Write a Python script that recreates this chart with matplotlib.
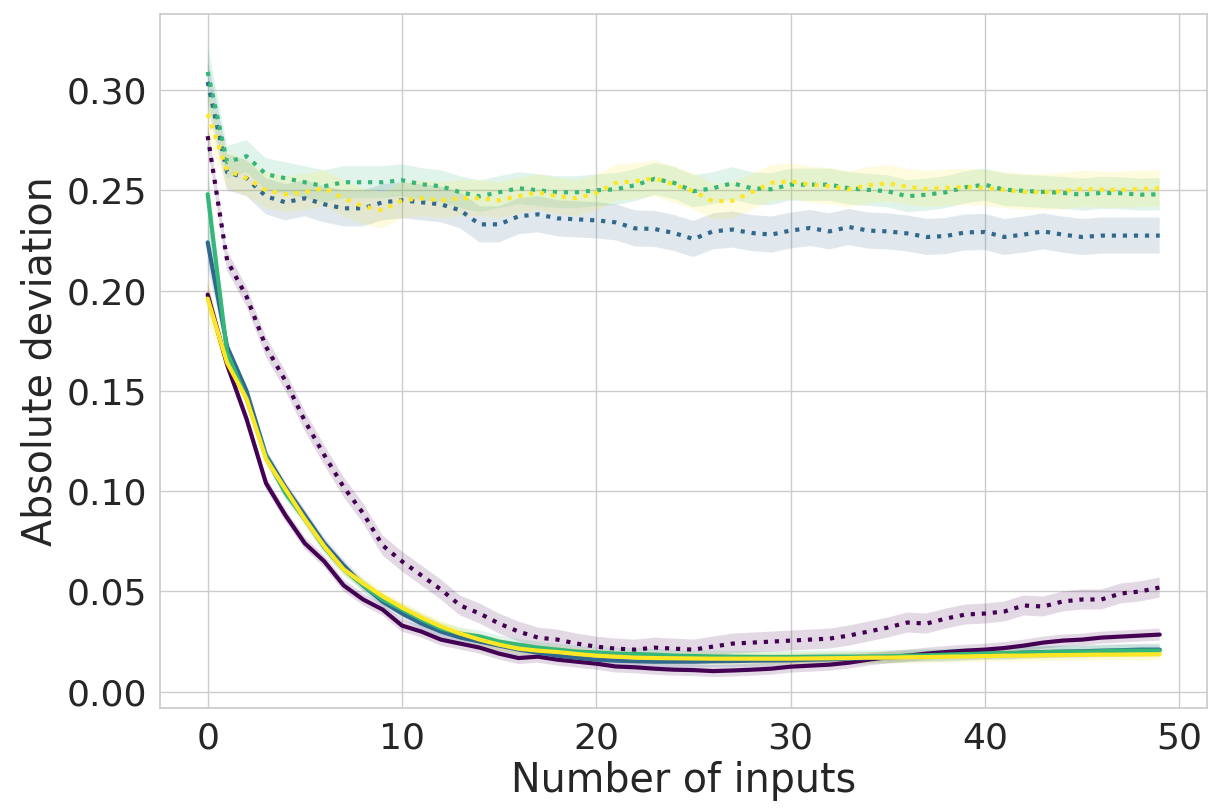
import numpy as np
import seaborn as sns
from matplotlib import pyplot as plt

sns.set_theme(style="whitegrid")
plt.rcParams['font.family'] = ['DejaVu Sans']

n_inputs = list(range(50))

# solid lines
purple_solid = [0.198, 0.163, 0.136, 0.104, 0.088, 0.074, 0.065, 0.053, 0.046, 0.041,
                0.033, 0.030, 0.026, 0.024, 0.022, 0.019, 0.0168, 0.0175, 0.016, 0.015,
                0.014, 0.0126, 0.0122, 0.0115, 0.011, 0.0108, 0.0103, 0.0106, 0.011, 0.0115,
                0.0125, 0.013, 0.0135, 0.0145, 0.016, 0.0172, 0.018, 0.019, 0.0198, 0.0205,
                0.021, 0.0218, 0.023, 0.0245, 0.0255, 0.026, 0.027, 0.0275, 0.028, 0.0285]
blue_solid = [0.224, 0.172, 0.150, 0.118, 0.102, 0.088, 0.074, 0.063, 0.053, 0.045,
              0.039, 0.034, 0.030, 0.027, 0.025, 0.023, 0.021, 0.0195, 0.018, 0.017,
              0.016, 0.0155, 0.0152, 0.015, 0.015, 0.015, 0.0152, 0.0153, 0.0155, 0.0156,
              0.0157, 0.016, 0.0162, 0.0165, 0.0168, 0.017, 0.0175, 0.018, 0.018, 0.0185,
              0.019, 0.019, 0.0195, 0.0198, 0.020, 0.0202, 0.0205, 0.0207, 0.021, 0.021]
green_solid = [0.248, 0.169, 0.146, 0.117, 0.099, 0.086, 0.072, 0.061, 0.053, 0.046,
               0.041, 0.036, 0.0316, 0.029, 0.0276, 0.025, 0.0235, 0.022, 0.021, 0.020,
               0.0196, 0.019, 0.0188, 0.0185, 0.018, 0.0178, 0.0176, 0.0175, 0.0174, 0.0173,
               0.0173, 0.0174, 0.0175, 0.0175, 0.0176, 0.0177, 0.018, 0.0182, 0.0185, 0.0188,
               0.019, 0.0192, 0.0195, 0.0197, 0.020, 0.020, 0.0202, 0.0205, 0.0205, 0.0205]
yellow_solid = [0.196, 0.164, 0.146, 0.116, 0.101, 0.086, 0.0725, 0.061, 0.054, 0.0476,
                0.042, 0.037, 0.0326, 0.029, 0.026, 0.0235, 0.0215, 0.0205, 0.0198, 0.0188,
                0.018, 0.0175, 0.017, 0.0168, 0.0167, 0.0166, 0.0165, 0.0165, 0.0165, 0.0165,
                0.0165, 0.0166, 0.0167, 0.0168, 0.017, 0.017, 0.0172, 0.0173, 0.0175, 0.0176,
                0.0178, 0.018, 0.018, 0.0182, 0.0183, 0.0184, 0.0185, 0.0185, 0.0186, 0.0187]

# dotted lines
purple_dotted = [0.277, 0.215, 0.197, 0.172, 0.155, 0.135, 0.118, 0.102, 0.089, 0.073,
                 0.065, 0.058, 0.051, 0.043, 0.039, 0.034, 0.030, 0.027, 0.026, 0.024,
                 0.0225, 0.0215, 0.021, 0.022, 0.0215, 0.021, 0.0225, 0.024, 0.0245, 0.025,
                 0.0255, 0.026, 0.0265, 0.028, 0.030, 0.032, 0.0345, 0.034, 0.0365, 0.0385,
                 0.039, 0.040, 0.043, 0.0425, 0.045, 0.046, 0.046, 0.049, 0.050, 0.052]
blue_dotted = [0.304, 0.259, 0.256, 0.247, 0.244, 0.246, 0.243, 0.241, 0.241, 0.244,
               0.245, 0.244, 0.243, 0.240, 0.233, 0.233, 0.237, 0.238, 0.236, 0.2355,
               0.235, 0.234, 0.231, 0.2307, 0.2287, 0.2257, 0.2295, 0.2304, 0.2287, 0.2279,
               0.2299, 0.2312, 0.2295, 0.2317, 0.2299, 0.2295, 0.2285, 0.2267, 0.2272, 0.229,
               0.2292, 0.2267, 0.2279, 0.2295, 0.2279, 0.2267, 0.2274, 0.2274, 0.2274, 0.2274]
green_dotted = [0.309, 0.264, 0.267, 0.258, 0.256, 0.254, 0.252, 0.254, 0.254, 0.254,
                0.255, 0.253, 0.252, 0.249, 0.247, 0.249, 0.251, 0.250, 0.249, 0.249,
                0.250, 0.2505, 0.2525, 0.2557, 0.2537, 0.2495, 0.251, 0.2535, 0.251, 0.2505,
                0.2528, 0.2528, 0.2528, 0.251, 0.2502, 0.2495, 0.247, 0.2478, 0.249, 0.2515,
                0.2528, 0.2503, 0.2497, 0.2492, 0.2487, 0.2478, 0.2487, 0.2485, 0.2478, 0.248]
yellow_dotted = [0.288, 0.260, 0.256, 0.250, 0.248, 0.249, 0.251, 0.246, 0.242, 0.240,
                 0.245, 0.246, 0.245, 0.246, 0.246, 0.245, 0.247, 0.249, 0.247, 0.246,
                 0.2487, 0.2537, 0.2545, 0.256, 0.2528, 0.2495, 0.2445, 0.2448, 0.249, 0.2537,
                 0.2545, 0.2528, 0.252, 0.2505, 0.2525, 0.2535, 0.2517, 0.2507, 0.2512, 0.2517,
                 0.2512, 0.2502, 0.2492, 0.249, 0.2495, 0.2507, 0.2503, 0.2502, 0.2507, 0.251]

# band half widths (solid, dotted) per colour, and at the first point
solid_err = [0.003, 0.003, 0.003, 0.003]
dotted_err = [0.005, 0.009, 0.008, 0.009]
first_err = [0.006, 0.012, 0.014, 0.012]

colors = plt.cm.viridis(np.linspace(0, 1, 4))
solid = [purple_solid, blue_solid, green_solid, yellow_solid]
dotted = [purple_dotted, blue_dotted, green_dotted, yellow_dotted]

fig = plt.figure(figsize=(12.22, 8.08), dpi=100)
ax = fig.add_axes([0.131, 0.124, 0.857, 0.859])

x = np.array(n_inputs)
for i in range(4):
    for ys, err, ls in [(solid[i], solid_err[i], '-'), (dotted[i], dotted_err[i], ':')]:
        ys = np.array(ys)
        e = np.full(len(ys), err)
        e[0] = first_err[i]
        ax.fill_between(x, ys - e, ys + e, color=colors[i], alpha=0.15,
                        edgecolor='white', linewidth=0.6, linestyle='--')
        ax.plot(x, ys, color=colors[i], linestyle=ls, linewidth=3)

ax.set_ylim(-0.008, 0.338)
ax.set_xlabel("Number of inputs", fontsize=28.5)
ax.set_ylabel("Absolute deviation", fontsize=28.5)
ax.tick_params(labelsize=26)
ax.set_yticks([0.0, 0.05, 0.10, 0.15, 0.20, 0.25, 0.30])
ax.set_yticklabels(["0.00", "0.05", "0.10", "0.15", "0.20", "0.25", "0.30"])

plt.savefig("out.png", dpi=100)
